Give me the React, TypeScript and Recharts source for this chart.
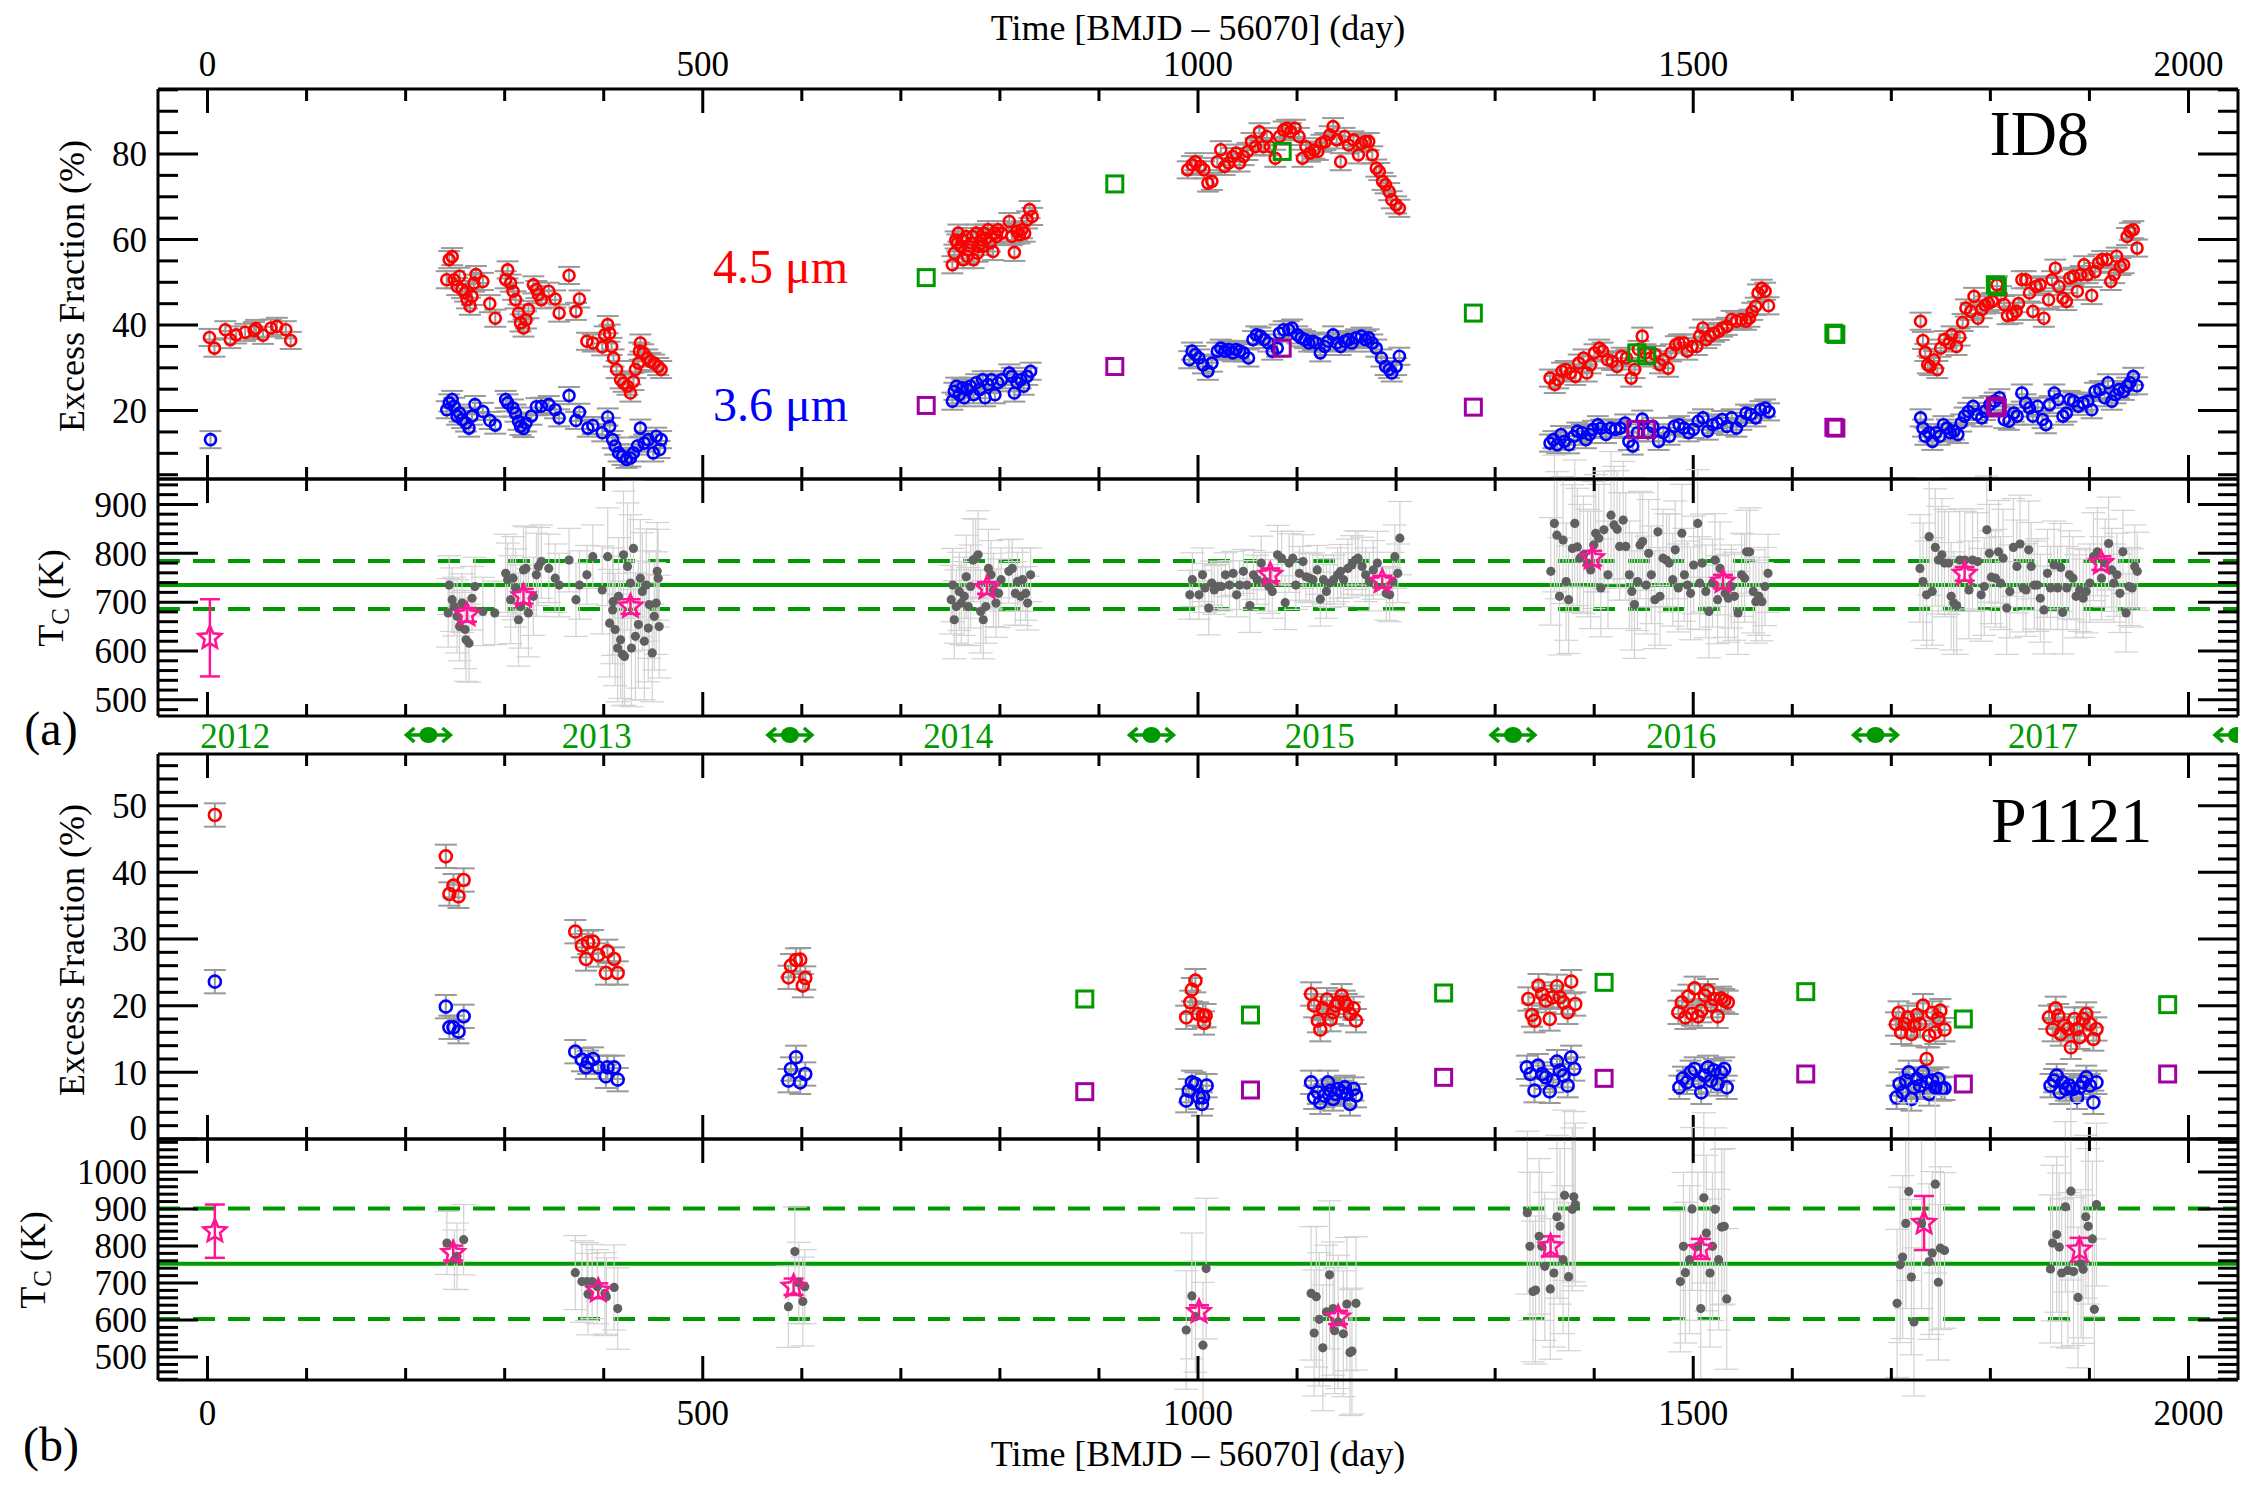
import React from 'react';
import { ScatterChart, Scatter, XAxis, YAxis, ErrorBar, ReferenceLine } from 'recharts';

// ---------- look ----------
const SERIF = '"Liberation Serif", "Times New Roman", Times, serif';
const RED = '#ff0000';
const BLUE = '#0000ff';
const GREEN = '#009a00';
const PURPLE = '#a000a0';
const PINK = '#ff1493';
const DOT = '#606060';
const BAR = '#9a9a9a';
const BAR_LIGHT = '#d2d2d2';

// ---------- axes ----------
const X_DOMAIN: [number, number] = [-50, 2050];
const X_MAJOR = [0, 500, 1000, 1500, 2000];
const X_TICKS = [0, 100, 200, 300, 400, 500, 600, 700, 800, 900, 1000, 1100, 1200, 1300, 1400, 1500, 1600, 1700, 1800, 1900, 2000];

const ID8_EF_DOMAIN: [number, number] = [4, 95.2];
const ID8_EF_MAJOR = [20, 40, 60, 80];
const ID8_EF_TICKS = [5, 10, 15, 20, 25, 30, 35, 40, 45, 50, 55, 60, 65, 70, 75, 80, 85, 90, 95];

const ID8_TC_DOMAIN: [number, number] = [467, 952];
const TC_MAJOR_A = [500, 600, 700, 800, 900];
const TC_TICKS_A = [480, 500, 520, 540, 560, 580, 600, 620, 640, 660, 680, 700, 720, 740, 760, 780, 800, 820, 840, 860, 880, 900, 920, 940];

const P1121_EF_DOMAIN: [number, number] = [0, 57.75];
const P1121_EF_MAJOR = [0, 10, 20, 30, 40, 50];
const P1121_EF_TICKS = [0, 2, 4, 6, 8, 10, 12, 14, 16, 18, 20, 22, 24, 26, 28, 30, 32, 34, 36, 38, 40, 42, 44, 46, 48, 50, 52, 54, 56];

const P1121_TC_DOMAIN: [number, number] = [438, 1089];
const TC_MAJOR_B = [500, 600, 700, 800, 900, 1000];
const TC_TICKS_B = [440, 460, 480, 500, 520, 540, 560, 580, 600, 620, 640, 660, 680, 700, 720, 740, 760, 780, 800, 820, 840, 860, 880, 900, 920, 940, 960, 980, 1000, 1020, 1040, 1060, 1080];

// calendar strip: label centres, year names, and 1 January of each year (days)
const YEAR_POS = [28, 393, 758, 1123, 1488, 1853];
const YEAR_NAMES = ['2012', '2013', '2014', '2015', '2016', '2017'];
const NEW_YEAR = [223, 588, 953, 1318, 1684, 2049];

// ---------- ID8 excess fraction (day, %) ----------
const ID8_EXCESS_ERR = 2.0;
const ID8_45: [number, number][] = [
  [2, 37.1], [7, 34.6], [18, 38.9], [23, 36.6], [29, 37.7], [38, 38.3], [47, 38.7], [49, 39.2], [56, 37.6], [64, 39.3], [70, 39.7], [79, 38.9], [84, 36.4],
  [241.5, 50.6], [244, 55.3], [247, 56], [249, 50.6], [252, 49], [254.5, 51.4], [257, 48.3], [260, 47.5], [262, 45.9], [265, 44.4], [267, 46.7], [269, 49.8], [271, 51.8], [278, 50.2], [285, 45], [290.5, 41.6],
  [301, 50.6], [303, 52.9], [306, 49.8], [308.5, 47.9], [311, 45.9], [314, 42.8], [316, 40.5], [319, 39.3], [321.5, 41.2], [324, 43.6], [329, 49.4], [332, 48.3], [334, 47.1], [337, 45.9], [344.5, 47.9], [351, 46.1], [355, 42.8], [365, 51.6], [372, 43.2], [375.5, 46.1],
  [383, 36.2], [389, 35.8], [398.5, 34.9], [401, 37.7], [404, 40.1], [406, 38.1], [408, 35], [410, 32.3], [413, 29.6], [417, 27.2], [420, 26.4], [424, 25.7], [427, 24.1], [430, 26.8], [432, 29.6], [435, 31.1], [436, 33.9], [437, 35.8], [440, 33.5], [444, 32.3], [447, 31.5], [451, 31.1], [455, 30.3], [458, 29.6],
  [752, 54.1], [754, 56.8], [755.4, 59.9], [757, 59.2], [758, 61.5], [760.6, 58.4], [762, 59.9], [763, 55.3], [766, 60.7], [767, 56.1], [768.3, 57.6], [771, 59.2], [772.4, 60.7], [773.4, 55.3], [776, 61.5], [777.5, 56.8], [778.6, 58.4], [781, 59.9], [782.7, 58.4], [783.7, 61.5], [786.3, 60.3], [788, 62.3], [790, 59.2], [793, 57.2], [795, 61.5], [796.6, 60.7], [798, 62.3], [801.7, 61.5], [809.5, 64.2], [812, 60.7], [814.6, 57], [817.2, 61.9], [819.8, 61.1], [822.3, 62.3], [825, 61.5], [827.5, 64.6], [830, 67], [832.6, 65.4],
  [989.6, 76.3], [994, 77.5], [997.4, 78.2], [1002.5, 77.1], [1006, 76.3], [1010, 73.2], [1014, 73.6], [1019.5, 78.2], [1023, 81], [1027, 77.1], [1031, 77.9], [1035, 79.4], [1038.5, 80.2], [1042, 77.9], [1046, 79.4], [1050, 80.6], [1054, 82.9], [1058, 81.7], [1062, 85.2], [1066, 81.7], [1069.4, 84.1], [1073, 81.7], [1078, 79], [1082.3, 84.1], [1086.4, 85.6], [1090, 86], [1093.6, 85.2], [1098, 86], [1102, 84.1], [1105.5, 79], [1109, 81.7], [1113, 80.2], [1117.3, 80.9], [1121, 80.6], [1124.5, 82.5], [1128.6, 82.9], [1133, 84.5], [1136.4, 86.4], [1140, 83.3], [1144, 78.2], [1148, 84.1], [1152, 82.1], [1157, 83.3], [1162, 79.8], [1165, 82.5], [1169, 82.9], [1172.4, 82.9], [1176, 79.8], [1180, 76.7], [1183, 75.9], [1186.3, 73.6], [1189.4, 72.8], [1193, 71.2], [1195.6, 69.3], [1200, 68.1], [1203.3, 67.3],
  [1355.4, 27.6], [1360.2, 26.1], [1363.6, 27.2], [1367.5, 29.2], [1371.3, 29.6], [1376.1, 28.8], [1381, 28], [1384.4, 31.1], [1389.2, 32.3], [1392.6, 28.8], [1396.4, 30.7], [1400.3, 33.5], [1405.1, 34.6], [1408.5, 33.9], [1413.3, 31.9], [1418.1, 31.5], [1423, 30.3], [1427.8, 32.7], [1432.6, 32.3], [1437.4, 27.6], [1440.8, 29.6], [1444.7, 34.3], [1448.5, 37.4], [1451.9, 33.5], [1456.7, 32.3], [1461.6, 33.1], [1466.4, 30.7], [1469.8, 31.9], [1474.6, 29.9], [1477.5, 33.5], [1482.3, 35.4], [1485.7, 35.8], [1490.5, 35.8], [1493.9, 33.9], [1498.8, 35], [1503.6, 35], [1506.5, 37.4], [1509.8, 39.3], [1513.2, 36.6], [1517.1, 37.4], [1521, 38.1], [1525.8, 38.5], [1529.2, 39.3], [1534, 39.7], [1538.8, 41.3], [1543.6, 40.9], [1548.5, 41.3], [1553.3, 40.9], [1556.7, 41.6], [1559.6, 43.2], [1563, 44.4], [1565.4, 47.5], [1569.2, 48.6], [1572.6, 47.9], [1576, 44.5],
  [1729.5, 40.9], [1731.9, 36.4], [1734.3, 33.6], [1736.7, 30.7], [1739.1, 30.3], [1743, 31.9], [1746.4, 29.6], [1749.8, 34.6], [1753.6, 36.6], [1758.4, 35.8], [1760.9, 37.7], [1765.7, 35], [1769, 37.2], [1772, 40.6], [1775.3, 44], [1780.2, 43.2], [1783.5, 46.7], [1787.4, 41.6], [1791.3, 43.6], [1794.6, 44.7], [1798, 45.1], [1801.9, 45.5], [1806.7, 49.4], [1810.6, 47.1], [1814, 44.8], [1817.3, 42.2], [1822.2, 42.4], [1826, 43.2], [1828.4, 45], [1831.8, 50.6], [1835.7, 50.6], [1839.5, 47.5], [1842.9, 43.2], [1846.3, 49], [1850.2, 49.4], [1854, 41.6], [1858.8, 45.9], [1862.2, 50.6], [1865.6, 53.3], [1869.4, 49], [1873.3, 46.3], [1876.7, 45.5], [1880.1, 51], [1883.9, 51.4], [1887.8, 47.9], [1891.2, 51.8], [1894.6, 54.1], [1898.4, 51.8], [1902.3, 46.9], [1905.7, 52.5], [1909.1, 54.5], [1912.9, 55.3], [1917.7, 55.3], [1921.6, 50.2], [1925, 51.8], [1927.4, 56.1], [1931.3, 53.7], [1934.6, 54.1], [1938, 60.7], [1940.9, 61.9], [1944.3, 62.3], [1948.1, 58],
];
const ID8_36: [number, number][] = [
  [3, 13.2],
  [241.5, 20.2], [244, 21.8], [247, 22.6], [249, 21], [252, 18.7], [254.5, 19.4], [257, 17.9], [261, 17.1], [264, 15.9], [267, 18.7], [270, 21.4], [278, 19.8], [285, 17.7], [290.5, 16.6],
  [301, 22.6], [303, 21.8], [308.5, 20.6], [311, 19.4], [314, 17.5], [316, 16.3], [319, 15.8], [321.5, 17.1], [327, 18.7], [332, 20.9], [337, 21], [344.5, 21.4], [351, 20.2], [355, 18.3], [365, 23.5], [372, 17.7], [375.5, 19.6],
  [384, 15.9], [389, 16.5], [398.5, 14.8], [404, 18.5], [406, 16.3], [409, 13.2], [411.5, 11.7], [415, 10.1], [419, 9.3], [423, 8.6], [427, 8.9], [430, 10.1], [434, 11.7], [437, 15.9], [441, 12.4], [445, 13.2], [450, 10.1], [453, 14], [456.5, 10.9], [458, 13.2],
  [752, 22.2], [754, 24.5], [756, 25.7], [759, 23.7], [762, 25.3], [764, 23], [767, 24.9], [770, 25.7], [773.4, 23.7], [776, 26.5], [779.6, 24.9], [782.7, 27.2], [785, 23], [788, 26.1], [791.5, 27.2], [795, 23.7], [798, 26.5], [801.7, 27.2], [809.5, 28.8], [812, 28], [814.6, 24.1], [817.2, 26.5], [821, 27.2], [824, 25.7], [827.5, 28], [831, 29.2],
  [991.2, 31.9], [994, 33.9], [997.4, 33.1], [1001, 32.3], [1005, 30.7], [1010, 29.2], [1014, 31.1], [1019.5, 33.9], [1023, 34.6], [1027, 33.9], [1031, 34.3], [1035, 33.5], [1038.5, 34.3], [1042, 33.9], [1046, 33.5], [1051, 32.3], [1055.5, 36.6], [1059, 37.7], [1063, 37.4], [1067, 36.6], [1071, 35.8], [1075, 33.9], [1080, 34.6], [1082.3, 38.1], [1086.4, 38.9], [1091.6, 38.9], [1095, 39.3], [1100.3, 37.7], [1104, 37], [1108, 36.6], [1112, 35.8], [1116, 36.2], [1119.4, 35.8], [1123.5, 33.5], [1128, 35], [1131.2, 36.2], [1136.4, 37.7], [1140, 35.8], [1144, 35], [1148, 36.2], [1152, 36.6], [1155.4, 35.8], [1159.5, 37], [1165, 37.4], [1169, 36.6], [1172.4, 37], [1176, 35.8], [1180, 34.6], [1185.3, 32.3], [1189.4, 30.3], [1193, 29.6], [1195.6, 28.8], [1200, 30.3], [1203.3, 32.7],
  [1355.4, 12.4], [1358.8, 13.2], [1362.6, 12], [1366.5, 14.4], [1369.9, 12.8], [1374.7, 12], [1379.5, 14], [1382.9, 15.2], [1387.7, 14.8], [1391.6, 13.2], [1395.5, 14.4], [1398.8, 15.6], [1403.7, 16.7], [1407, 15.9], [1411.9, 14.4], [1416.7, 15.9], [1421.5, 15.6], [1426.3, 15.9], [1431.2, 17.1], [1435, 12.8], [1438.9, 11.7], [1443.7, 14.8], [1448.5, 18], [1454.3, 14.8], [1459.2, 16.3], [1465, 12.8], [1469.8, 14.8], [1476, 14], [1480.9, 16.3], [1485.7, 16.7], [1490.5, 15.9], [1495.4, 14.8], [1500.2, 15.6], [1505, 17.5], [1509.8, 18.3], [1514.6, 15.2], [1519.5, 16.7], [1524.3, 17.1], [1529.2, 17.9], [1534, 16.3], [1538.8, 18.3], [1543.6, 15.9], [1548.5, 17.5], [1553.3, 19.4], [1558.1, 19.1], [1563, 18.3], [1567.8, 20.2], [1572.6, 20.6], [1576.5, 19.7],
  [1729.5, 18.3], [1731.9, 15.9], [1734.3, 14], [1738.2, 14.8], [1741.5, 12.8], [1744.9, 14.8], [1748.8, 14], [1752.6, 16.7], [1756, 15.9], [1759.4, 14.8], [1763.3, 15.2], [1767.1, 14.4], [1770.5, 17.1], [1773.9, 18.7], [1777.7, 19.8], [1782.6, 21], [1786.4, 19.1], [1791.3, 18.3], [1794.6, 19.8], [1799.5, 21.4], [1804.3, 22.2], [1809.1, 23], [1814, 17.9], [1818.8, 17.5], [1823.6, 19.4], [1827, 18.7], [1831.8, 24.1], [1835.7, 21.8], [1839.5, 20.6], [1842.9, 18.7], [1847.7, 21], [1852.6, 17.9], [1856, 16.7], [1859.8, 21.4], [1864.6, 24.1], [1868.5, 22.6], [1873.3, 18.7], [1876.7, 19.4], [1880.1, 22.6], [1883.9, 22.2], [1888.8, 21], [1893.6, 21.8], [1898.4, 22.2], [1902.3, 20.2], [1905.7, 24.5], [1910.5, 24.9], [1915.3, 23], [1918.7, 26.5], [1922.6, 22.2], [1926.4, 23.7], [1929.8, 24.9], [1934.6, 24.5], [1938, 25.7], [1940.9, 26.5], [1944.3, 28], [1948.1, 25.8],
];
// other photometry: 4.5 um (green squares) and 3.6 um (purple squares)
const ID8_SQ_45: [number, number][] = [[725.6, 51.1], [916, 73], [1085, 80.6], [1278, 42.8], [1443, 33.5], [1453, 32.8], [1642, 38.1], [1644, 37.8], [1805, 49.4], [1807, 49.0]];
const ID8_SQ_36: [number, number][] = [[725.6, 21.2], [916, 30.3], [1085, 34.6], [1278, 20.8], [1442, 15.6], [1453, 15.6], [1642, 16.1], [1644, 15.9], [1805, 21.1], [1807, 20.6]];

// ---------- ID8 colour temperature (day, K, error) ----------
const ID8_TC_MEAN = 735;
const ID8_TC_SIGMA = 49;
const ID8_TC: [number, number, number][] = [
  [244, 735, 60], [247, 705, 65], [243, 678, 70], [249, 691, 60], [252, 671, 75], [254.5, 650, 70], [257, 698, 60], [260, 644, 80], [261, 623, 85], [264, 616, 80], [267, 708, 65], [270, 732, 60], [278, 681, 70], [290, 678, 65],
  [301, 759, 80], [303, 746, 75], [306, 705, 90], [308.5, 749, 85], [311, 729, 80], [314, 664, 95], [316, 691, 85], [319, 766, 90], [321.5, 769, 85], [324, 678, 90], [329, 712, 80], [332, 756, 85], [334, 773, 80], [337, 783, 75], [344.5, 769, 70], [351, 749, 70], [355, 735, 65], [365, 786, 65], [372, 705, 75], [375.5, 735, 70], [383, 756, 60], [389, 793, 65],
  [398.5, 725, 90], [404, 793, 100], [406, 657, 110], [409, 684, 110], [409.5, 701, 110], [411.5, 644, 115], [414, 606, 110], [415, 712, 120], [417, 623, 120], [419, 593, 105], [420, 797, 130], [421, 589, 100], [424, 773, 130], [427, 739, 140], [428, 606, 120], [430, 810, 140], [432, 630, 130], [435, 654, 130], [437, 749, 120], [439, 722, 120], [441, 620, 120], [443, 735, 115], [445, 647, 110], [446, 695, 110], [449, 596, 100], [451, 671, 110], [453, 698, 105], [454, 763, 100], [455, 749, 100], [456, 650, 105],
  [750.8, 705, 70], [752.3, 735, 75], [753.9, 664, 80], [756, 691, 75], [759, 722, 80], [761, 698, 85], [764, 712, 80], [766, 752, 85], [768, 691, 80], [770.4, 732, 85], [773, 786, 85], [775.5, 790, 80], [778, 797, 90], [780.6, 681, 85], [783.2, 664, 80], [785.8, 691, 75], [788.4, 769, 80], [791, 756, 70], [793.5, 725, 75], [796, 698, 70], [798.7, 718, 70], [801.2, 746, 65], [809, 763, 65], [812.5, 769, 60], [815.6, 718, 65], [817.7, 742, 60], [820.8, 712, 60], [822.9, 746, 65], [826, 718, 55], [828, 698, 55], [831, 756, 55],
  [991.7, 715, 50], [994.3, 746, 55], [1001, 715, 50], [1004.6, 756, 55], [1007, 729, 50], [1010.8, 688, 55], [1013.8, 739, 45], [1016.4, 725, 50], [1020, 732, 45], [1023.6, 732, 50], [1027.7, 756, 45], [1031.8, 735, 50], [1035.5, 759, 45], [1039, 715, 45], [1042, 735, 50], [1045.8, 763, 45], [1049.5, 735, 50], [1052.4, 693, 55], [1056, 756, 50], [1059.7, 746, 50], [1063.8, 780, 55], [1068, 742, 60], [1071.5, 732, 55], [1075, 722, 55], [1080.3, 797, 60], [1084.4, 790, 55], [1088, 699, 55], [1092, 780, 60], [1095.7, 790, 55], [1098.8, 735, 50], [1102.4, 759, 55], [1106, 783, 55], [1109, 752, 50], [1112.7, 749, 50], [1116, 746, 55], [1120.4, 766, 50], [1123.5, 706, 55], [1126.6, 746, 50], [1129.6, 722, 55], [1133.2, 739, 50], [1136.9, 746, 50], [1141, 756, 55], [1144, 763, 55], [1147, 746, 55], [1151.3, 769, 60], [1155.4, 776, 60], [1159, 786, 60], [1161.6, 790, 55], [1165.7, 773, 60], [1169.3, 756, 55], [1172.9, 742, 60], [1177, 766, 60], [1181.1, 780, 65], [1190, 718, 55], [1193.5, 715, 55], [1196.6, 742, 60], [1198.7, 793, 65], [1201.7, 759, 60], [1203.8, 831, 75],
  [1356.2, 763, 110], [1359.8, 861, 140], [1362.4, 837, 130], [1365, 712, 120], [1368.6, 827, 130], [1371.7, 742, 120], [1374.2, 705, 110], [1377.9, 810, 130], [1380.4, 861, 130], [1383, 813, 120], [1385.6, 790, 110], [1389.2, 797, 120], [1393.3, 780, 110], [1396.4, 766, 120], [1399.5, 817, 130], [1401.5, 841, 120], [1404.6, 831, 110], [1406.7, 729, 100], [1409.8, 848, 120], [1413.9, 756, 110], [1417, 878, 130], [1420, 858, 120], [1423.2, 849, 120], [1425.7, 814, 110], [1429.3, 868, 120], [1431.9, 814, 110], [1435.5, 756, 110], [1438, 722, 120], [1440.7, 695, 110], [1443.7, 742, 100], [1446.3, 817, 110], [1448.9, 824, 100], [1452.5, 735, 100], [1455, 800, 110], [1457.7, 756, 100], [1461.3, 705, 100], [1464.3, 844, 110], [1466.4, 712, 100], [1469.5, 790, 100], [1473, 786, 95], [1475.7, 780, 100], [1479.3, 746, 95], [1481.8, 807, 100], [1484.9, 729, 90], [1488.5, 841, 100], [1491.1, 756, 95], [1494.2, 735, 90], [1497.3, 718, 95], [1500.4, 776, 100], [1504.5, 861, 110], [1506.5, 739, 95], [1509.1, 780, 100], [1512.7, 722, 95], [1515.8, 681, 95], [1519.4, 739, 90], [1522, 786, 95], [1524.6, 705, 90], [1527.1, 769, 95], [1532.3, 718, 90], [1535.4, 708, 90], [1538.5, 732, 85], [1541.6, 712, 90], [1545.2, 678, 85], [1548.8, 756, 85], [1551.9, 749, 90], [1553.9, 803, 85], [1557, 803, 90], [1560.6, 722, 85], [1563.2, 701, 85], [1566.3, 712, 80], [1569.4, 701, 80], [1572.4, 732, 80], [1575.5, 759, 80],
  [1728.9, 769, 110], [1732, 742, 120], [1735.6, 715, 110], [1738.2, 834, 120], [1741.3, 722, 110], [1744.4, 812, 120], [1747.5, 786, 110], [1751, 797, 115], [1753.7, 780, 110], [1757.8, 780, 105], [1760.4, 712, 110], [1763, 698, 105], [1766, 693, 100], [1769.1, 786, 105], [1774.2, 786, 100], [1778.4, 725, 100], [1782, 786, 105], [1787.1, 783, 100], [1790.7, 715, 95], [1793.8, 732, 100], [1796.4, 848, 110], [1799, 800, 100], [1801, 751, 95], [1805.1, 749, 100], [1808.2, 803, 105], [1810.3, 739, 95], [1812.9, 790, 100], [1816.5, 688, 95], [1819.6, 722, 95], [1823.2, 812, 100], [1826.8, 773, 95], [1829.9, 819, 100], [1833, 729, 90], [1836, 725, 95], [1838.7, 807, 100], [1841.2, 773, 90], [1844.3, 735, 90], [1847.4, 735, 95], [1850.4, 708, 90], [1854, 684, 90], [1857.6, 759, 90], [1860.7, 729, 85], [1864.3, 776, 90], [1867.9, 729, 85], [1871, 771, 90], [1873, 679, 85], [1877.2, 729, 85], [1879.8, 756, 90], [1883.4, 749, 85], [1886.5, 712, 85], [1890, 725, 85], [1893.7, 708, 80], [1896.8, 722, 85], [1900.4, 739, 80], [1904, 793, 90], [1908, 803, 90], [1912.2, 749, 85], [1915.8, 780, 90], [1919.4, 820, 95], [1922.5, 766, 85], [1924.6, 739, 80], [1927.7, 756, 85], [1930.8, 718, 80], [1933.8, 803, 85], [1937, 678, 80], [1940, 732, 80], [1943.1, 729, 80], [1945.7, 773, 85], [1948.3, 763, 80],
];
// per-epoch averages
const ID8_TC_AVG: [number, number, number][] = [
  [2.4, 627, 79], [262, 674, 14], [319, 712, 15], [427, 691, 15], [787, 729, 12], [1073, 756, 13], [1186, 742, 12], [1398, 790, 15], [1530, 742, 14], [1774, 758, 14], [1912, 780, 14],
];

// ---------- P1121 excess fraction (day, %) ----------
const P1121_EXCESS_ERR = 1.75;
const P1121_45: [number, number][] = [
  [7.4, 48.6],
  [240.6, 42.4], [244.2, 36.75], [248.3, 38], [253.4, 36.4], [258.6, 38.85],
  [371.3, 31.1], [378, 29], [382.1, 27], [384.2, 29.5], [389.3, 29.6], [394.5, 27.6], [403.7, 28.15], [402.2, 24.9], [410.5, 27], [414.1, 24.9],
  [586.5, 24.25], [589, 26], [594.2, 26.85], [598.4, 26.9], [601, 23], [603.5, 24.15],
  [988.1, 18.25], [992.2, 20.5], [993.8, 22.4], [997.4, 23.75], [1000, 18.75], [1005, 18.5], [1007.7, 18.5], [1006.1, 17.4],
  [1114.2, 21.75], [1117.3, 20], [1121, 17.75], [1123.5, 16.4], [1126, 19.6], [1130.2, 20.9], [1133.9, 17.9], [1136.4, 19], [1139, 20], [1141.5, 20.5], [1145, 21.5], [1148.2, 20.5], [1150.3, 20], [1153.4, 18.75], [1157, 19.6], [1159.5, 17.75],
  [1333.5, 21], [1337.1, 18.6], [1339.7, 17.75], [1343.8, 23], [1347.4, 21.75], [1351, 20.75], [1355.1, 18], [1358.2, 21.25], [1362.4, 22.9], [1365.4, 21.25], [1369, 20.5], [1373.2, 19], [1376.8, 23.6], [1380.9, 20.25],
  [1485, 19], [1488.5, 20.5], [1492.1, 18.25], [1495.2, 21.4], [1498.8, 18.75], [1501.4, 22.6], [1505, 18.4], [1508.1, 19.25], [1511.7, 21.5], [1514.8, 22.25], [1517.9, 20], [1521, 21], [1524.6, 18.4], [1528.2, 21.1], [1531.3, 20.75], [1534.9, 20.5],
  [1704.7, 17.25], [1707.3, 18.9], [1709.9, 16], [1713.5, 17.25], [1716.6, 18.25], [1720.2, 15.75], [1722.8, 17], [1725.9, 18.6], [1729, 17.25], [1732, 20], [1735.6, 12], [1738.2, 15.5], [1741.3, 18.9], [1744.4, 16], [1747.5, 18.1], [1749.5, 19.25], [1753.7, 16.4],
  [1859.2, 18.25], [1862.8, 16.4], [1865.9, 19.6], [1868.5, 18.5], [1871, 15.75], [1874.6, 17], [1878.2, 16.5], [1881.3, 13.75], [1884.9, 18], [1887.5, 16.5], [1890, 15.25], [1893.7, 18], [1896.8, 18.75], [1900.4, 17.25], [1904, 15], [1907.1, 16.5],
];
const P1121_36: [number, number][] = [
  [7.4, 23.6],
  [240.6, 19.85], [244.2, 16.75], [248.3, 16.75], [253.4, 16.1], [258.6, 18.4],
  [371.3, 13.1], [378, 11.9], [382.1, 10.75], [384.2, 11.5], [389.3, 12], [394.5, 10.75], [403.7, 10.75], [402.2, 9.4], [410.5, 10.75], [414.1, 8.9],
  [586.5, 8.75], [589, 10.5], [594.2, 12.25], [598.4, 8.5], [603.5, 9.75],
  [988.1, 5.75], [990.7, 7.25], [993.8, 8.5], [997.4, 8.25], [1001, 6.25], [1005, 6.25], [1004, 5.25], [1008.7, 8],
  [1114.2, 8.5], [1117.3, 6.25], [1121, 7], [1123.5, 5.5], [1127.6, 6.5], [1131.2, 8.5], [1133.9, 7.25], [1136.4, 6], [1139, 6.75], [1141.5, 7.5], [1145, 7], [1148.2, 7.75], [1150.3, 6.75], [1153.4, 5.25], [1157, 7.5], [1159.5, 6.5],
  [1332, 10.75], [1335.6, 9.75], [1339.7, 7.25], [1343.3, 11], [1347.4, 9.75], [1351, 9.25], [1355.1, 7.15], [1358.8, 8.75], [1362.4, 11.6], [1365.4, 10.25], [1369, 9.5], [1373.2, 8], [1376.8, 12.25], [1379.9, 10.5],
  [1486, 7.75], [1489.6, 9.1], [1493.7, 8.5], [1497.3, 10], [1501.4, 10.5], [1505.5, 8.5], [1508.1, 7], [1511.7, 9.5], [1514.8, 10.75], [1517.9, 8.75], [1521, 10.25], [1524.6, 8.25], [1528.2, 10], [1531.3, 10.5], [1533.8, 7.75],
  [1705.3, 6.25], [1708.3, 8.25], [1711.5, 7], [1715, 8.75], [1717.6, 10], [1720.2, 6], [1722.8, 7.75], [1725.9, 9], [1729, 8], [1732, 10], [1735.6, 8.5], [1738.2, 6.75], [1741.3, 8.75], [1744.4, 7.75], [1747.5, 9], [1750.6, 7.5], [1753.7, 7.6],
  [1860.7, 8], [1864.3, 8.75], [1866.9, 9.5], [1870, 7], [1873.1, 8.5], [1876.2, 7.5], [1879.8, 8], [1883.4, 7.5], [1887.5, 6.25], [1890.6, 7.75], [1893.7, 8.5], [1896.8, 9.25], [1900.4, 8], [1904, 5.5], [1907.1, 8.5],
];
const P1121_SQ_45: [number, number][] = [[885.7, 21], [1053, 18.6], [1248, 21.9], [1410, 23.5], [1613.6, 22.1], [1772.7, 18], [1979, 20.15]];
const P1121_SQ_36: [number, number][] = [[885.7, 7.1], [1053, 7.35], [1248, 9.25], [1410, 9.1], [1613.6, 9.75], [1772.7, 8.25], [1979, 9.75]];

// ---------- P1121 colour temperature (day, K, error) ----------
const P1121_TC_MEAN = 752;
const P1121_TC_SIGMA = 149;
const P1121_TC: [number, number, number][] = [
  [241.7, 808, 85], [249.3, 763, 80], [251.9, 772, 90], [258.6, 817, 95],
  [371.3, 728, 100], [378, 704, 110], [383.1, 704, 105], [384.2, 670, 110], [388.3, 704, 100], [393.5, 690, 100], [401.2, 672, 110], [402.7, 663, 105], [410.5, 688, 115], [414.1, 631, 110],
  [586.5, 636, 110], [593, 785, 120], [597, 700, 110], [601, 650, 120], [603, 690, 100],
  [988.1, 573, 160], [993.8, 665, 170], [997.4, 609, 150], [1005, 532, 170], [1008.2, 739, 190],
  [1114.2, 672, 180], [1117.3, 565, 170], [1119.4, 663, 190], [1122.4, 602, 180], [1126, 525, 170], [1129.7, 622, 180], [1132.8, 722, 200], [1136.4, 631, 180], [1137.9, 571, 170], [1141.5, 595, 180], [1146.7, 563, 170], [1150.3, 643, 180], [1153.4, 512, 170], [1155.4, 516, 170], [1159.5, 645, 180],
  [1332.5, 890, 220], [1335.1, 799, 200], [1338.2, 677, 190], [1340.8, 681, 200], [1344.4, 826, 210], [1347, 799, 200], [1350.1, 745, 200], [1355.7, 684, 190], [1359.3, 727, 200], [1362.4, 879, 220], [1365.5, 853, 210], [1368.6, 763, 200], [1370.1, 937, 230], [1374.2, 717, 200], [1377.9, 899, 220], [1379.4, 933, 230], [1381, 912, 220],
  [1487, 704, 190], [1490.1, 799, 200], [1492.1, 728, 190], [1496.3, 763, 200], [1498.8, 900, 220], [1504.5, 799, 200], [1507.6, 631, 190], [1510.7, 930, 230], [1513.2, 835, 210], [1516.9, 727, 200], [1519.4, 799, 200], [1522, 899, 220], [1525.6, 763, 190], [1528.7, 851, 210], [1531.3, 853, 210], [1533.8, 657, 190],
  [1705.8, 645, 200], [1708.9, 749, 210], [1711.4, 770, 220], [1714.6, 861, 230], [1717.6, 947, 240], [1720.2, 716, 210], [1722.8, 595, 200], [1730.5, 861, 230], [1738.2, 758, 210], [1741.3, 781, 220], [1744.4, 967, 240], [1747.5, 702, 210], [1749.5, 794, 220], [1753.7, 788, 210],
  [1860.7, 738, 200], [1862.8, 808, 210], [1866.9, 831, 210], [1869.5, 797, 200], [1872, 727, 200], [1875.7, 906, 230], [1878.2, 734, 210], [1881.3, 948, 240], [1883.9, 731, 200], [1888.5, 661, 190], [1891.6, 752, 200], [1893.7, 737, 200], [1896.3, 879, 220], [1898.8, 853, 210], [1903, 819, 210], [1905, 629, 190], [1907.1, 912, 220],
];
const P1121_TC_AVG: [number, number, number][] = [
  [7.4, 840, 72], [248, 781, 20], [394.5, 679, 20], [591.7, 690, 22], [1001, 622, 18], [1141.5, 607, 18], [1356, 799, 27], [1507.6, 792, 27], [1733, 862, 73], [1890, 790, 32],
];

// ---------- helpers ----------
const fixedErr = (pts: [number, number][], err: number) => pts.map(([x, y]) => ({ x, y, e: err }));
const ownErr = (pts: [number, number, number][]) => pts.map(([x, y, e]) => ({ x, y, e }));
const plain = (pts: [number, number][]) => pts.map(([x, y]) => ({ x, y }));

const ring = (color: string, r: number) => (p: any) => (
  <circle cx={p.cx} cy={p.cy} r={r} fill="none" stroke={color} strokeWidth={2.6} />
);
const box = (color: string) => (p: any) => (
  <rect x={p.cx - 8} y={p.cy - 8} width={16} height={16} fill="none" stroke={color} strokeWidth={3} />
);
const grayDot = (p: any) => <circle cx={p.cx} cy={p.cy} r={4.6} fill={DOT} />;
const openStar = (p: any) => {
  const pts: string[] = [];
  for (let i = 0; i < 10; i++) {
    const a = -Math.PI / 2 + (i * Math.PI) / 5;
    const r = i % 2 === 0 ? 12 : 5.5;
    pts.push(`${p.cx + r * Math.cos(a)},${p.cy + r * Math.sin(a)}`);
  }
  return <polygon points={pts.join(' ')} fill="none" stroke={PINK} strokeWidth={2.6} strokeLinejoin="miter" />;
};
const yearMarker = (p: any) => {
  const { cx, cy } = p;
  return (
    <g stroke={GREEN} fill="none" strokeWidth={3.5}>
      <line x1={cx - 21} x2={cx + 21} y1={cy} y2={cy} />
      <polyline points={`${cx - 14},${cy - 7} ${cx - 22},${cy} ${cx - 14},${cy + 7}`} />
      <polyline points={`${cx + 14},${cy - 7} ${cx + 22},${cy} ${cx + 14},${cy + 7}`} />
      <ellipse cx={cx} cy={cy} rx={9} ry={8} fill={GREEN} stroke="none" />
    </g>
  );
};

// Tick marks point into the frame; majors are longer and may carry a label.
const tickFont = { fontFamily: SERIF, fontSize: 35, fill: '#000' };
const xTick = (side: 'top' | 'bottom', showLabels: boolean) => (p: any) => {
  const v = p.payload.value;
  const major = X_MAJOR.includes(v);
  const len = major ? 24 : 12;
  const dir = side === 'top' ? 1 : -1;
  return (
    <g>
      <line x1={p.x} x2={p.x} y1={p.y} y2={p.y + dir * len} stroke="#000" strokeWidth={3} />
      {showLabels && major && (
        <text x={p.x} y={side === 'top' ? p.y - 13 : p.y + 45} textAnchor="middle" {...tickFont}>{v}</text>
      )}
    </g>
  );
};
const yTick = (side: 'left' | 'right', majors: number[], liftZero: boolean) => (p: any) => {
  const v = p.payload.value;
  const major = majors.includes(v);
  const len = major ? 40 : 20;
  const dir = side === 'left' ? 1 : -1;
  return (
    <g>
      <line x1={p.x} x2={p.x + dir * len} y1={p.y} y2={p.y} stroke="#000" strokeWidth={3} />
      {side === 'left' && major && (
        <text x={p.x - 11} y={p.y + (liftZero && v === 0 ? -11 : 0)} dy="0.35em" textAnchor="end" {...tickFont}>{v}</text>
      )}
    </g>
  );
};
const YearTick = (p: any) => (
  <text x={p.x} y={p.y - 6} textAnchor="middle" fontFamily={SERIF} fontSize={35} fill={GREEN}>
    {YEAR_NAMES[YEAR_POS.indexOf(p.payload.value)]}
  </text>
);

// ---------- framed panel ----------
const W = 2250;
const PAD = 70;
const LINE = { stroke: '#000', strokeWidth: 3 };

type PanelProps = {
  top: number;
  height: number;
  yDomain: [number, number];
  yMajor: number[];
  yTicks: number[];
  topLabels?: boolean;
  bottomLabels?: boolean;
  liftZero?: boolean;
  children: React.ReactNode;
};

function Panel({ top, height, yDomain, yMajor, yTicks, topLabels, bottomLabels, liftZero, children }: PanelProps) {
  const common = { type: 'number' as const, allowDataOverflow: true, interval: 0, tickSize: 0, tickMargin: 0, tickLine: false, axisLine: LINE };
  return (
    <div style={{ position: 'absolute', left: 0, top: top - PAD, width: W, height: height + 2 * PAD }}>
      <ScatterChart width={W} height={height + 2 * PAD} margin={{ top: PAD - 1, right: 11, bottom: PAD - 1, left: 157 }}>
        <XAxis xAxisId="b" dataKey="x" orientation="bottom" domain={X_DOMAIN} ticks={X_TICKS} height={1} {...common} tick={xTick('bottom', !!bottomLabels)} />
        <XAxis xAxisId="t" dataKey="x" orientation="top" domain={X_DOMAIN} ticks={X_TICKS} height={1} {...common} tick={xTick('top', !!topLabels)} />
        <YAxis yAxisId="l" dataKey="y" orientation="left" domain={yDomain} ticks={yTicks} width={1} {...common} tick={yTick('left', yMajor, !!liftZero)} />
        <YAxis yAxisId="r" dataKey="y" orientation="right" domain={yDomain} ticks={yTicks} width={1} {...common} tick={yTick('right', yMajor, false)} />
        {children}
      </ScatterChart>
    </div>
  );
}

function excessSeries(red: [number, number][], blue: [number, number][], err: number, sq45: [number, number][], sq36: [number, number][], r: number) {
  return [
    <Scatter key="red" data={fixedErr(red, err)} xAxisId="b" yAxisId="l" shape={ring(RED, r)} isAnimationActive={false}>
      <ErrorBar dataKey="e" direction="y" width={11} stroke={BAR} strokeWidth={2} />
    </Scatter>,
    <Scatter key="blue" data={fixedErr(blue, err)} xAxisId="t" yAxisId="r" shape={ring(BLUE, r)} isAnimationActive={false}>
      <ErrorBar dataKey="e" direction="y" width={11} stroke={BAR} strokeWidth={2} />
    </Scatter>,
    <Scatter key="sq45" data={plain(sq45)} xAxisId="b" yAxisId="r" shape={box(GREEN)} isAnimationActive={false} />,
    <Scatter key="sq36" data={plain(sq36)} xAxisId="t" yAxisId="l" shape={box(PURPLE)} isAnimationActive={false} />,
  ];
}

function tcSeries(pts: [number, number, number][], avg: [number, number, number][], mean: number, sigma: number) {
  return [
    <ReferenceLine key="mean" xAxisId="b" yAxisId="l" y={mean} stroke={GREEN} strokeWidth={4} />,
    <ReferenceLine key="hi" xAxisId="b" yAxisId="l" y={mean + sigma} stroke={GREEN} strokeWidth={4} strokeDasharray="22 13" />,
    <ReferenceLine key="lo" xAxisId="b" yAxisId="l" y={mean - sigma} stroke={GREEN} strokeWidth={4} strokeDasharray="22 13" />,
    <Scatter key="tc" data={ownErr(pts)} xAxisId="b" yAxisId="l" shape={grayDot} isAnimationActive={false}>
      <ErrorBar dataKey="e" direction="y" width={12} stroke={BAR_LIGHT} strokeWidth={1.2} />
    </Scatter>,
    <Scatter key="avg" data={ownErr(avg)} xAxisId="t" yAxisId="r" shape={openStar} isAnimationActive={false}>
      <ErrorBar dataKey="e" direction="y" width={10} stroke={PINK} strokeWidth={2.5} />
    </Scatter>,
  ];
}

function YearStrip() {
  const top = 716;
  const h = 38;
  return (
    <div style={{ position: 'absolute', left: 0, top: top - 10, width: W, height: h + 20 }}>
      <ScatterChart width={W} height={h + 20} margin={{ top: 10, right: 12, bottom: 9, left: 158 }}>
        <XAxis xAxisId="s" dataKey="x" type="number" domain={X_DOMAIN} allowDataOverflow ticks={YEAR_POS} interval={0}
          height={1} tickSize={0} tickMargin={0} axisLine={false} tickLine={false} tick={YearTick} />
        <YAxis yAxisId="s" dataKey="y" type="number" domain={[0, 1]} hide />
        <Scatter data={NEW_YEAR.map((d) => ({ x: d, y: 0.5 }))} xAxisId="s" yAxisId="s" shape={yearMarker} isAnimationActive={false} />
      </ScatterChart>
    </div>
  );
}

function Labels() {
  const t = { fontFamily: SERIF, fill: '#000' };
  return (
    <svg width={W} height={1500} style={{ position: 'absolute', left: 0, top: 0, pointerEvents: 'none' }}>
      <text x={1198} y={40} textAnchor="middle" fontSize={36} {...t}>Time [BMJD – 56070] (day)</text>
      <text x={1198} y={1466} textAnchor="middle" fontSize={36} {...t}>Time [BMJD – 56070] (day)</text>
      <text transform="translate(84,286) rotate(-90)" textAnchor="middle" fontSize={36} {...t}>Excess Fraction (%)</text>
      <text transform="translate(84,950) rotate(-90)" textAnchor="middle" fontSize={36} {...t}>Excess Fraction (%)</text>
      <text transform="translate(63,598) rotate(-90)" textAnchor="middle" fontSize={36} {...t}>
        T<tspan fontSize={25} dy={6}>C</tspan><tspan dy={-6}> (K)</tspan>
      </text>
      <text transform="translate(45,1260) rotate(-90)" textAnchor="middle" fontSize={36} {...t}>
        T<tspan fontSize={25} dy={6}>C</tspan><tspan dy={-6}> (K)</tspan>
      </text>
      <text x={2089} y={155} textAnchor="end" fontSize={64} {...t}>ID8</text>
      <text x={1991} y={842} fontSize={64} {...t}>P1121</text>
      <text x={713} y={283} fontSize={48} fontFamily={SERIF} fill={RED}>4.5 μm</text>
      <text x={713} y={421} fontSize={48} fontFamily={SERIF} fill={BLUE}>3.6 μm</text>
      <text x={51} y={745} textAnchor="middle" fontSize={48} {...t}>(a)</text>
      <text x={51} y={1461} textAnchor="middle" fontSize={48} {...t}>(b)</text>
    </svg>
  );
}

export default function App() {
  return (
    <div style={{ position: 'absolute', left: 0, top: 0, width: W, height: 1500, background: '#fff', overflow: 'hidden' }}>
      <Panel top={89} height={390} yDomain={ID8_EF_DOMAIN} yMajor={ID8_EF_MAJOR} yTicks={ID8_EF_TICKS} topLabels>
        {excessSeries(ID8_45, ID8_36, ID8_EXCESS_ERR, ID8_SQ_45, ID8_SQ_36, 5.5)}
      </Panel>
      <Panel top={479} height={237} yDomain={ID8_TC_DOMAIN} yMajor={TC_MAJOR_A} yTicks={TC_TICKS_A}>
        {tcSeries(ID8_TC, ID8_TC_AVG, ID8_TC_MEAN, ID8_TC_SIGMA)}
      </Panel>
      <YearStrip />
      <Panel top={754} height={385} yDomain={P1121_EF_DOMAIN} yMajor={P1121_EF_MAJOR} yTicks={P1121_EF_TICKS} liftZero>
        {excessSeries(P1121_45, P1121_36, P1121_EXCESS_ERR, P1121_SQ_45, P1121_SQ_36, 6)}
      </Panel>
      <Panel top={1139} height={241} yDomain={P1121_TC_DOMAIN} yMajor={TC_MAJOR_B} yTicks={TC_TICKS_B} bottomLabels>
        {tcSeries(P1121_TC, P1121_TC_AVG, P1121_TC_MEAN, P1121_TC_SIGMA)}
      </Panel>
      <Labels />
    </div>
  );
}
